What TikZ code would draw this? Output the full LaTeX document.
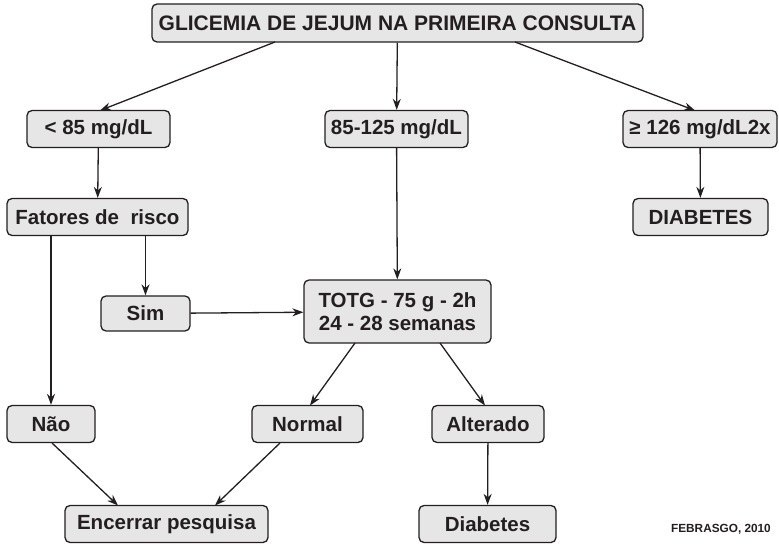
\documentclass[tikz,border=0pt]{standalone}
\usepackage{fontspec}
\setmainfont{Liberation Sans}
\usetikzlibrary{arrows.meta}
\definecolor{boxfill}{HTML}{E6E6E6}
\definecolor{ink}{HTML}{231F20}
\tikzset{
  flowbox/.style={draw=ink, fill=boxfill, line width=1.3pt, rounded corners=5pt,
    minimum height=37pt, inner sep=0pt, align=center, font=\bfseries\fontsize{20.5}{23}\selectfont, text=ink},
  conn/.style={draw=ink, line width=1.3pt, -{Stealth[length=11pt,width=8pt]}}
}
\begin{document}
\begin{tikzpicture}[x=1pt,y=-1pt]
\useasboundingbox (0,0) rectangle (779,545);
\node[flowbox, minimum width=491pt, minimum height=38pt, font=\bfseries\fontsize{21}{23}\selectfont] (top) at (397.5,23) {GLICEMIA DE JEJUM NA PRIMEIRA CONSULTA};
\node[flowbox, minimum width=143pt] (lo) at (98.5,129) {< 85 mg/dL};
\node[flowbox, minimum width=143pt] (mid) at (396.5,129) {85-125 mg/dL};
\node[flowbox, minimum width=154pt] (hi) at (700,129) {≥ 126 mg/dL2x};
\node[flowbox, minimum width=135pt] (diab1) at (700.5,217) {DIABETES};
\node[flowbox, minimum width=181pt] (fat) at (97.5,217) {Fatores de \ risco};
\node[flowbox, minimum width=89pt, minimum height=35pt] (sim) at (145.5,313.5) {Sim};
\node[flowbox, minimum width=187pt, minimum height=63pt] (totg) at (397.5,311.5) {TOTG - 75 g - 2h\\24 - 28 semanas};
\node[flowbox, minimum width=88pt] (nao) at (51,424) {Não};
\node[flowbox, minimum width=111pt] (normal) at (307.5,424) {Normal};
\node[flowbox, minimum width=112pt] (alt) at (488,424) {Alterado};
\node[flowbox, minimum width=203pt] (enc) at (166.5,524) {Encerrar pesquisa};
\node[flowbox, minimum width=137pt] (diab2) at (487.5,524) {Diabetes};
\node[font=\bfseries\fontsize{11.8}{13}\selectfont, text=ink, anchor=east, inner sep=0pt] (src) at (771,529) {FEBRASGO, 2010};

\coordinate (t1) at (275,42);
\coordinate (t3) at (515,42);
\draw[conn] (t1) -- (100,110.5);
\draw[conn] (top) -- (mid);
\draw[conn] (t3) -- (695,110.5);
\draw[conn] (lo) -- (fat);
\draw[conn] (hi) -- (diab1);
\draw[conn] (mid) -- (totg);
\draw[conn] (fat.south -| nao) -- (nao);
\draw[conn] (fat.south -| sim) -- (sim);
\draw[conn] (sim) -- (totg);
\draw[conn] (355,343) -- (310,405.5);
\draw[conn] (440,343) -- (485,405.5);
\draw[conn] (alt) -- (diab2);
\draw[conn] (52,443) -- (118,505.5);
\draw[conn] (280,443) -- (215,505.5);
\end{tikzpicture}
\end{document}
